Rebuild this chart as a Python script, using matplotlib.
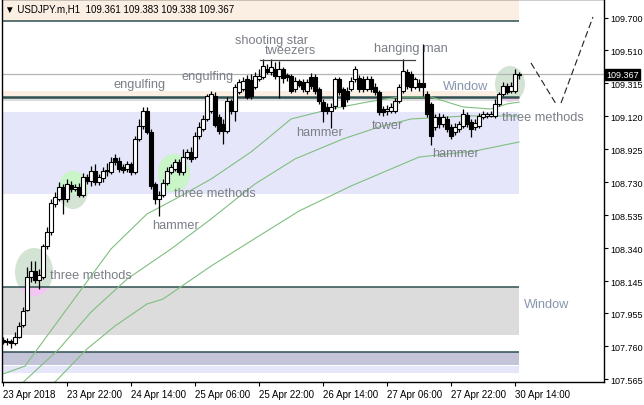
import matplotlib
matplotlib.use('Agg')
import matplotlib.pyplot as plt
from matplotlib.patches import Rectangle, Ellipse

plt.rcParams['font.family'] = ['Liberation Sans', 'DejaVu Sans']

# ---------------- data (USDJPY.m H1) ----------------
opens = [107.797, 107.785, 107.791, 107.779, 107.815, 107.886, 107.974, 108.169, 108.205, 108.152,
         108.169, 108.352, 108.435, 108.601, 108.630, 108.701, 108.630, 108.713, 108.689, 108.701,
         108.654, 108.760, 108.737, 108.796, 108.731, 108.754, 108.796, 108.790, 108.872, 108.855,
         108.819, 108.807, 108.837, 108.790, 108.985, 109.062, 109.150, 109.026, 108.719, 108.630,
         108.654, 108.725, 108.790, 108.807, 108.849, 108.790, 108.878, 108.908, 108.878, 109.002,
         109.044, 109.103, 109.150, 109.239, 109.115, 109.073, 109.032, 109.209, 109.150, 109.262,
         109.280, 109.339, 109.333, 109.292, 109.339, 109.351, 109.398, 109.381, 109.398, 109.357,
         109.398, 109.363, 109.357, 109.280, 109.327, 109.322, 109.268, 109.351, 109.351, 109.280,
         109.203, 109.174, 109.150, 109.180, 109.339, 109.280, 109.268, 109.280, 109.339, 109.345,
         109.339, 109.280, 109.339, 109.292, 109.262, 109.162, 109.150, 109.150, 109.150, 109.209,
         109.268, 109.381, 109.369, 109.292, 109.316, 109.316, 109.251, 109.192, 109.056, 109.115,
         109.073, 109.103, 109.056, 109.026, 109.044, 109.062, 109.127, 109.085, 109.056, 109.062,
         109.115, 109.121, 109.121, 109.121, 109.192, 109.251, 109.298, 109.268, 109.268, 109.361]
highs = [107.815, 107.809, 107.803, 107.844, 107.903, 107.992, 108.228, 108.264, 108.264, 108.217,
         108.364, 108.465, 108.630, 108.672, 108.731, 108.719, 108.748, 108.737, 108.719, 108.725,
         108.784, 108.778, 108.825, 108.837, 108.778, 108.819, 108.843, 108.878, 108.896, 108.878,
         108.837, 108.855, 108.849, 109.002, 109.103, 109.174, 109.174, 109.044, 108.731, 108.677,
         108.748, 108.819, 108.837, 108.867, 108.867, 108.926, 108.926, 108.937, 109.026, 109.085,
         109.127, 109.251, 109.268, 109.262, 109.132, 109.103, 109.233, 109.221, 109.310, 109.339,
         109.351, 109.363, 109.369, 109.381, 109.398, 109.457, 109.428, 109.457, 109.440, 109.446,
         109.410, 109.375, 109.369, 109.351, 109.339, 109.339, 109.339, 109.375, 109.369, 109.292,
         109.221, 109.197, 109.197, 109.351, 109.351, 109.292, 109.292, 109.351, 109.416, 109.363,
         109.357, 109.357, 109.357, 109.316, 109.274, 109.180, 109.186, 109.197, 109.227, 109.310,
         109.460, 109.398, 109.387, 109.351, 109.339, 109.546, 109.268, 109.203, 109.132, 109.138,
         109.132, 109.121, 109.073, 109.079, 109.091, 109.162, 109.144, 109.103, 109.103, 109.138,
         109.150, 109.144, 109.150, 109.221, 109.262, 109.322, 109.316, 109.322, 109.398, 109.383]
lows = [107.773, 107.767, 107.750, 107.767, 107.809, 107.874, 107.968, 108.140, 108.134, 108.098,
        108.157, 108.335, 108.417, 108.583, 108.618, 108.542, 108.612, 108.672, 108.677, 108.642,
        108.642, 108.719, 108.707, 108.713, 108.713, 108.731, 108.766, 108.778, 108.831, 108.790,
        108.784, 108.790, 108.772, 108.778, 108.973, 109.044, 109.014, 108.689, 108.601, 108.530,
        108.642, 108.713, 108.778, 108.796, 108.772, 108.772, 108.867, 108.849, 108.867, 108.985,
        109.032, 109.091, 109.138, 109.056, 109.014, 108.955, 109.020, 109.132, 109.091, 109.251,
        109.268, 109.221, 109.221, 109.280, 109.327, 109.339, 109.369, 109.363, 109.339, 109.227,
        109.316, 109.327, 109.257, 109.262, 109.292, 109.262, 109.251, 109.280, 109.251, 109.192,
        109.085, 109.132, 109.050, 109.162, 109.245, 109.162, 109.203, 109.268, 109.322, 109.262,
        109.262, 109.268, 109.262, 109.245, 109.127, 109.121, 109.127, 109.138, 109.138, 109.197,
        109.257, 109.280, 109.268, 109.280, 109.268, 109.239, 109.115, 108.949, 109.038, 109.050,
        109.056, 109.026, 108.985, 109.008, 109.026, 109.050, 109.056, 108.997, 109.038, 109.050,
        109.103, 109.109, 109.115, 109.109, 109.180, 109.239, 109.251, 109.257, 109.257, 109.338]
closes = [107.785, 107.791, 107.779, 107.815, 107.880, 107.968, 108.169, 108.205, 108.152, 108.181,
          108.352, 108.435, 108.607, 108.642, 108.701, 108.630, 108.719, 108.689, 108.701, 108.654,
          108.760, 108.737, 108.796, 108.731, 108.760, 108.796, 108.802, 108.849, 108.849, 108.807,
          108.802, 108.837, 108.790, 108.985, 109.062, 109.150, 109.026, 108.707, 108.630, 108.654,
          108.725, 108.796, 108.819, 108.849, 108.790, 108.878, 108.908, 108.867, 109.002, 109.056,
          109.103, 109.239, 109.251, 109.067, 109.032, 109.032, 109.209, 109.150, 109.292, 109.322,
          109.327, 109.233, 109.239, 109.357, 109.357, 109.416, 109.381, 109.410, 109.357, 109.398,
          109.345, 109.351, 109.268, 109.327, 109.304, 109.280, 109.322, 109.298, 109.268, 109.209,
          109.150, 109.150, 109.174, 109.339, 109.262, 109.180, 109.221, 109.327, 109.398, 109.280,
          109.280, 109.339, 109.280, 109.262, 109.144, 109.144, 109.162, 109.174, 109.209, 109.292,
          109.387, 109.298, 109.292, 109.339, 109.292, 109.292, 109.132, 109.002, 109.115, 109.073,
          109.115, 109.044, 109.002, 109.056, 109.073, 109.132, 109.073, 109.044, 109.079, 109.121,
          109.132, 109.132, 109.132, 109.192, 109.251, 109.298, 109.262, 109.298, 109.369, 109.367]

# moving averages, read at sample bars
ma1_x = [0, 5.5, 11, 20, 27, 36, 44, 52, 62, 66, 72, 82, 91, 99, 107, 115, 122, 126, 129]
ma1_y = [107.596, 107.643, 107.821, 108.110, 108.335, 108.542, 108.642, 108.748, 108.908, 108.985,
         109.103, 109.162, 109.203, 109.233, 109.233, 109.174, 109.162, 109.192, 109.203]
ma2_x = [4, 14, 22, 31, 42, 52, 63, 73, 85, 94, 102, 116, 129]
ma2_y = [107.525, 107.744, 107.962, 108.157, 108.335, 108.512, 108.719, 108.867, 108.985, 109.056,
         109.103, 109.121, 109.121]
ma3_x = [12, 21, 28, 36, 40, 52, 64, 74, 87, 104, 118, 129]
ma3_y = [107.525, 107.744, 107.880, 108.010, 108.039, 108.234, 108.412, 108.559, 108.707, 108.878,
         108.914, 108.967]

# zones (price bottom, price top)
zone_bottom = [109.682, 109.239, 109.209, 108.660, 107.827, 107.649, 107.602]
zone_top = [109.950, 109.268, 109.227, 109.144, 108.110, 107.726, 107.644]
zone_lines = [109.682, 109.232, 108.110, 107.726]
zone_end = 129.1

# ellipses (center bar, center price, width bars, height price)
ell_x = [7.75, 17.5, 42.75, 126.75]
ell_y = [108.199, 108.683, 108.784, 109.310]
ell_w = [9.5, 7.5, 8.0, 7.5]
ell_h = [0.284, 0.225, 0.225, 0.213]

# annotations
ann_text = ['engulfing', 'engulfing', 'shooting star', 'tweezers', 'hanging man', 'Window',
            'three methods', 'hammer', 'tower', 'hammer', 'three methods', 'hammer',
            'three methods', 'Window']
ann_x = [27.5, 44.75, 58, 65.5, 92.75, 110, 124.75, 73.25, 92.25, 107.25, 42.75, 37.25, 11.75, 130.25]
ann_y = [109.310, 109.357, 109.570, 109.511, 109.522, 109.298, 109.115, 109.026, 109.067, 108.902,
         108.666, 108.477, 108.181, 108.010]

tweezers_x = [64.25, 103]
tweezers_y = [109.452, 109.452]
proj1_x = [132, 138.25]
proj1_y = [109.434, 109.192]
proj2_x = [139.5, 147.5]
proj2_y = [109.197, 109.706]

bid = 109.367
yticks = [109.700, 109.510, 109.315, 109.120, 108.925, 108.730, 108.535, 108.340, 108.145,
          107.955, 107.760, 107.565]
xtick_pos = [0, 16, 32, 48, 64, 80, 96, 112, 128]
xtick_lab = ['23 Apr 2018', '23 Apr 22:00', '24 Apr 14:00', '25 Apr 06:00', '25 Apr 22:00',
             '26 Apr 14:00', '27 Apr 06:00', '27 Apr 22:00', '30 Apr 14:00']
header = '\u25bc USDJPY.m,H1  109.361 109.383 109.338 109.367'

# ---------------- drawing ----------------
fig = plt.figure(figsize=(6.44, 4.06), dpi=100)
ax = fig.add_axes([2 / 644, 23 / 406, 602 / 644, 383 / 406])
ax.set_xlim(-0.25, 150.25)
ax.set_ylim(107.549, 109.812)

zone_colors = ['#fbefe4', '#fbefe4', '#dcdcdc', '#e6e6fa', '#dcdcdc', '#c4c4d9', '#e6e6fa']
rects = []
for b, t, c in zip(zone_bottom, zone_top, zone_colors):
    r = Rectangle((-1, b), zone_end + 1, t - b, facecolor=c, edgecolor='none', zorder=0)
    ax.add_patch(r)
    rects.append(r)
for k, lv in enumerate(zone_lines):
    ax.plot([-1, zone_end], [lv, lv], color='#2f4f4f', lw=1.8 if k == 1 else 1.1, zorder=1.5,
            solid_capstyle='butt')

# ellipses with blended colors over zones
for ex, ey, ew, eh in zip(ell_x, ell_y, ell_w, ell_h):
    base = Ellipse((ex, ey), ew, eh, facecolor='#d4e4d4', edgecolor='none', zorder=1)
    ax.add_patch(base)
    for r, col in [(rects[3], '#c9f5c9'), (rects[4], '#f3c6f3'), (rects[2], '#eec8ee')]:
        e2 = Ellipse((ex, ey), ew, eh, facecolor=col, edgecolor='none', zorder=1.1)
        ax.add_patch(e2)
        e2.set_clip_path(r)

# moving averages
for mx, my in [(ma1_x, ma1_y), (ma2_x, ma2_y), (ma3_x, ma3_y)]:
    ax.plot(mx, my, color='#7fbf7f', lw=0.8, zorder=2)

# bid line
ax.axhline(bid, color='#b4b4b4', lw=0.9, zorder=2)

# candles
idx = list(range(len(closes)))
ax.vlines(idx, lows, highs, color='black', lw=0.9, zorder=3)
for i, o, c in zip(idx, opens, closes):
    lo, hi = min(o, c), max(o, c)
    fc = 'white' if c >= o else 'black'
    ax.add_patch(Rectangle((i - 0.38, lo), 0.76, max(hi - lo, 0.002), facecolor=fc,
                           edgecolor='black', lw=0.8, zorder=3.1))

# annotation lines
ax.plot(tweezers_x, tweezers_y, color='#404040', lw=0.9, zorder=3)
for px, py in [(proj1_x, proj1_y), (proj2_x, proj2_y)]:
    ax.plot(px, py, color='#202020', lw=0.8, dashes=(6, 3), zorder=3)

# annotation texts
for t, x, y in zip(ann_text, ann_x, ann_y):
    col = '#8796ae' if t == 'Window' else '#7a7f86'
    ax.text(x, y, t, fontsize=9.2, color=col, ha='left', va='center', zorder=4)

# axes styling
for s in ax.spines.values():
    s.set_color('black')
    s.set_linewidth(1.0)
ax.yaxis.tick_right()
ax.set_yticks(yticks)
ax.set_yticklabels(['%.3f' % v for v in yticks])
ax.set_xticks(xtick_pos)
ax.set_xticklabels(xtick_lab, ha='left')
ax.tick_params(axis='x', direction='out', length=3, width=0.8, labelsize=7, colors='black', pad=2)
ax.tick_params(axis='y', direction='out', length=3, width=0.8, labelsize=6.5, colors='black', pad=1.5)

# current price tag
ax.annotate('%.3f' % bid, xy=(1.0, bid), xycoords=('axes fraction', 'data'),
            xytext=(1.8, 0), textcoords='offset points', fontsize=6.5, color='white',
            va='center', ha='left',
            bbox=dict(boxstyle='square,pad=0.12', facecolor='black', edgecolor='black'),
            annotation_clip=False, zorder=5)

fig.text(5 / 644, 1 - 10 / 406, header, fontsize=7, color='black', ha='left', va='center')

fig.savefig('out.png', dpi=100)
